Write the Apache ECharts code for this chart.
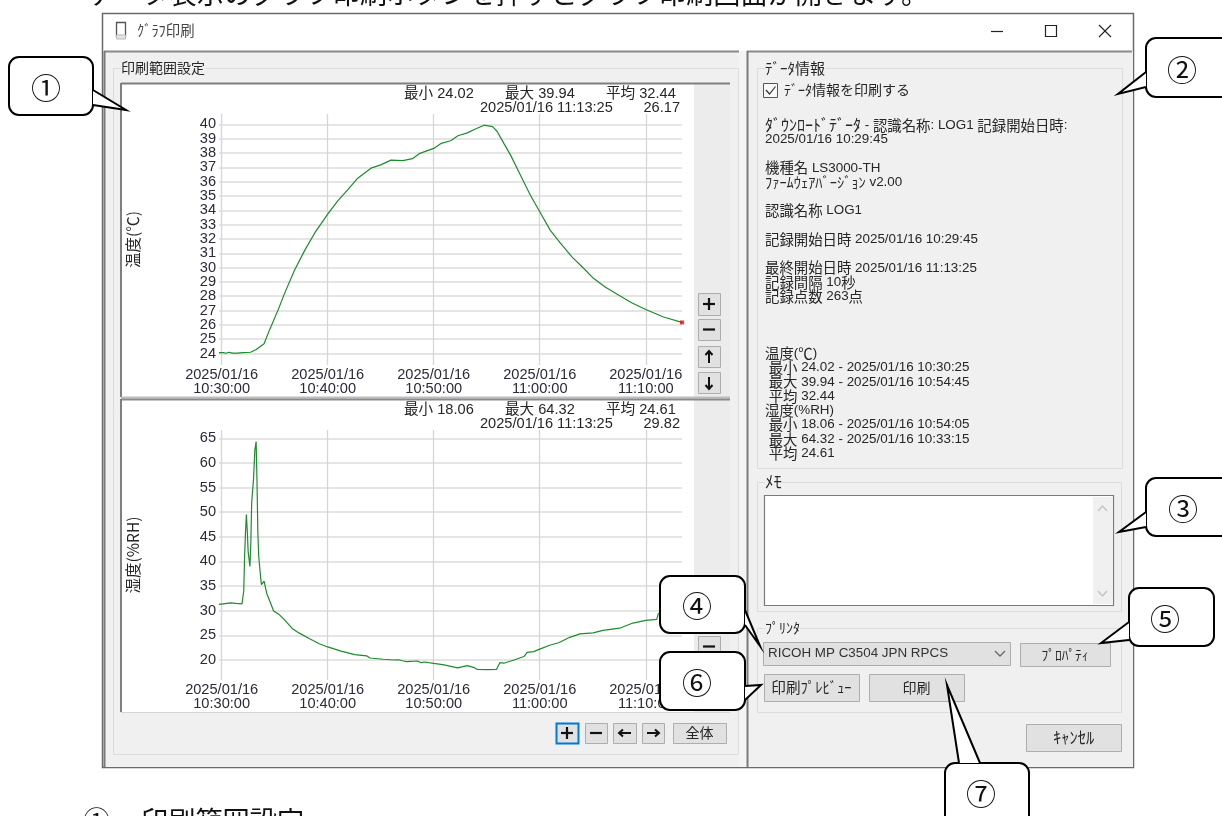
<!DOCTYPE html>
<html><head><meta charset="utf-8">
<style>html,body{margin:0;padding:0;background:#fff;overflow:hidden}#c{width:1222px;height:816px}</style>
<script src="https://cdn.jsdelivr.net/npm/echarts@6/dist/echarts.min.js"></script>
</head><body><div id="c"></div>
<script>
// ---------- data ----------
const xTickTimes = ['10:30:00','10:40:00','10:50:00','11:00:00','11:10:00'];
const xDate = '2025/01/16';
const xStart = '10:29:45';
const xEnd = '11:13:25';
const tempTicks = [24,25,26,27,28,29,30,31,32,33,34,35,36,37,38,39,40];
const humTicks = [20,25,30,35,40,45,50,55,60,65];
const tempTimes = ['10:29:45','10:30:10','10:30:17','10:30:25','10:30:40','10:31:00','10:31:30','10:32:00','10:32:44','10:33:16','10:34:00','10:34:31','10:35:19','10:35:56','10:36:53','10:37:50','10:38:46','10:40:00','10:40:57','10:41:53','10:42:50','10:44:05','10:45:00','10:45:58','10:47:05','10:48:00','10:48:38','10:50:00','10:50:43','10:51:36','10:52:17','10:53:10','10:53:56','10:54:45','10:55:33','10:55:59','10:56:37','10:57:15','10:58:11','10:59:07','11:00:00','11:01:00','11:01:57','11:03:02','11:04:08','11:05:04','11:06:10','11:07:16','11:08:40','11:10:00','11:11:40','11:13:25'];
const tempValues = [24.07,24.06,24.08,24.02,24.09,24.03,24.03,24.07,24.09,24.28,24.68,25.65,27.03,28.2,29.83,31.2,32.4,33.73,34.66,35.42,36.24,36.94,37.17,37.5,37.47,37.6,37.95,38.32,38.67,38.85,39.2,39.4,39.67,39.94,39.84,39.5,38.67,37.85,36.45,35.05,33.9,32.6,31.7,30.75,29.95,29.25,28.65,28.15,27.55,27.07,26.55,26.17];
const humTimes = ['10:29:45','10:30:20','10:30:50','10:31:20','10:31:55','10:32:00','10:32:05','10:32:10','10:32:15','10:32:20','10:32:25','10:32:30','10:32:40','10:32:45','10:32:50','10:33:00','10:33:08','10:33:15','10:33:20','10:33:25','10:33:30','10:33:40','10:33:45','10:34:00','10:34:15','10:34:30','10:34:54','10:35:23','10:35:52','10:36:39','10:37:17','10:38:15','10:39:12','10:40:00','10:41:16','10:42:33','10:43:40','10:43:59','10:45:15','10:46:12','10:46:40','10:47:26','10:48:29','10:48:48','10:49:10','10:50:00','10:50:59','10:52:15','10:53:10','10:53:50','10:54:05','10:55:04','10:55:55','10:56:14','10:56:37','10:57:34','10:58:30','10:58:49','10:59:26','11:00:00','11:01:00','11:01:47','11:01:57','11:02:50','11:03:47','11:05:02','11:05:58','11:07:32','11:08:47','11:10:00','11:11:02','11:11:11','11:11:20','11:12:20','11:13:25'];
const humValues = [31.27,31.45,31.6,31.5,31.4,31.4,34,41.2,46,49.5,46.3,42,39,43.6,52,56.5,62.6,64.32,56.3,45.6,41,37,35.3,36,33.5,32.16,29.93,29.3,28.3,26.4,25.5,24.35,23.3,22.65,21.8,21.1,20.85,20.4,20.15,20,20.05,19.65,19.8,19.45,19.6,19.3,19,18.4,18.85,18.45,18.1,18.06,18.08,19.45,19.35,20,20.7,21.55,21.7,22.2,23.05,23.5,23.9,24.6,25.3,25.5,26,26.45,27.5,28.05,28.25,29.4,29.7,29.75,29.82];
const statLabels = ['最小','最大','平均'];
const tempStats = ['24.02','39.94','32.44'];
const humStats = ['18.06','64.32','24.61'];
const lastTime = '2025/01/16 11:13:25';
const tempLast = '26.17';
const humLast = '29.82';
const infoFirst = 'ﾀﾞｳﾝﾛｰﾄﾞﾃﾞｰﾀ';
const infoLines = [' - 認識名称: LOG1 記録開始日時:','2025/01/16 10:29:45','','機種名 LS3000-TH','ﾌｧｰﾑｳｪｱﾊﾞｰｼﾞｮﾝ v2.00','','認識名称 LOG1','','記録開始日時 2025/01/16 10:29:45','','最終開始日時 2025/01/16 11:13:25','記録間隔 10秒','記録点数 263点','','','','温度(℃)',' 最小 24.02 - 2025/01/16 10:30:25',' 最大 39.94 - 2025/01/16 10:54:45',' 平均 32.44','湿度(%RH)',' 最小 18.06 - 2025/01/16 10:54:05',' 最大 64.32 - 2025/01/16 10:33:15',' 平均 24.61'];
const headline = 'データ表示のグラフ印刷ボタンを押すとグラフ印刷画面が開きます。';
const footline = '印刷範囲設定';

// ---------- helpers ----------
const sec = t => { const p = t.split(':').map(Number); return p[0]*3600 + p[1]*60 + p[2]; };
const pairs = (ts, vs) => ts.map((t, i) => [sec(t), vs[i]]);
const FONT = '"Liberation Sans","Noto Sans CJK JP",sans-serif';
const CJK = '"Noto Sans CJK JP","Liberation Sans",sans-serif';
const INK = '#262626';
const g = [];
const rect = (x,y,w,h,fill,stroke,lw,z,r) => g.push({type:'rect',z:z===undefined?-5:z,silent:true,shape:{x,y,width:w,height:h,r:r||0},style:{fill:fill||'none',stroke:stroke||'none',lineWidth:lw||1}});
const txt = (x,y,text,size,opt) => { opt=opt||{}; g.push({type:'text',z:opt.z===undefined?-1:opt.z,silent:true,x,y,style:{text,fontSize:size,fontFamily:opt.font||FONT,fill:opt.fill||INK,align:opt.align||'left',verticalAlign:opt.va||'middle',lineHeight:opt.lh,backgroundColor:opt.bg,rich:opt.rich}}); };
const line = (pts,stroke,lw,z) => g.push({type:'polyline',z:z===undefined?-1:z,silent:true,shape:{points:pts},style:{stroke,lineWidth:lw||1,fill:'none'}});
const btn = (x0,y0,x1,y1,label,size,font) => { rect(x0+.5,y0+.5,x1-x0,y1-y0,'#e1e1e1','#adadad',1,-2); if(label) txt((x0+x1)/2,(y0+y1)/2,label,size,{align:'center',z:-1,font:font||CJK}); };
const groupBox = (x0,y0,x1,y1,label,lx,size) => { rect(x0+.5,y0+.5,x1-x0,y1-y0,'none','#dcdcdc',1,-4); txt(lx,y0,label,size||14,{bg:'#f0f0f0',font:CJK}); };
const arrow = (cx,y0,y1,dir) => {
  line([[cx,y0],[cx,y1]],'#111',2,-1);
  const tip = dir<0?y0:y1; line([[cx-3.5,tip+(dir<0?4:-4)],[cx,tip],[cx+3.5,tip+(dir<0?4:-4)]],'#111',2,-1);
};
const harrow = (cy,x0,x1,dir) => {
  line([[x0,cy],[x1,cy]],'#111',2,-1);
  const tip = dir<0?x0:x1; line([[tip+(dir<0?4:-4),cy-3.5],[tip,cy],[tip+(dir<0?4:-4),cy+3.5]],'#111',2,-1);
};
const plusBtn = (x0,y0,x1,y1,blue) => {
  rect(x0+.5,y0+.5,x1-x0,y1-y0,'#e1e1e1',blue?'#0078d7':'#adadad',blue?2:1,-2);
  const cx=(x0+x1)/2,cy=(y0+y1)/2; line([[cx-6,cy],[cx+6,cy]],'#111',2.2); line([[cx,cy-6],[cx,cy+6]],'#111',2.2);
};
const minusBtn = (x0,y0,x1,y1) => { btn(x0,y0,x1,y1,''); const cx=(x0+x1)/2,cy=(y0+y1)/2; line([[cx-6,cy],[cx+6,cy]],'#111',2.2); };
const callout = (x,y,w,h,num,nx,ny,tail) => {
  rect(x,y,w,h,'#fff','#000',2,50,10);
  g.push({type:'polygon',z:51,silent:true,shape:{points:tail},style:{fill:'#fff',stroke:'none'}});
  line(tail,'#000',2,52);
  txt(nx,ny,num,30,{align:'center',font:CJK,fill:'#111',z:53});
};

// ---------- window chrome ----------
txt(88,-6,headline,27.2,{font:CJK,fill:'#111'});
txt(83,821,'①',27.2,{font:CJK,fill:'#111'});
txt(141,821,footline,27.2,{font:CJK,fill:'#111'});
rect(102.5,13.5,1031,754,'#fff','#6a6a6a',1.5,-10);
rect(104,51,635,716,'#f0f0f0','none',1,-9);
rect(747,51,386,716,'#f0f0f0','none',1,-9);
rect(739,51,8,716,'#f4f4f4','none',1,-9);
line([[104,51.5],[739,51.5]],'#8a8a8a',2,-8);
line([[747,51.5],[1132,51.5]],'#8a8a8a',2,-8);
line([[104.5,51],[104.5,767]],'#7a7a7a',2,-8);
line([[747.5,51],[747.5,767]],'#7a7a7a',2,-8);
// title bar
rect(116.5,22.5,9,14,'#fff','#555',1.3,-7);
rect(116.5,35,9,4,'#e4e4e4','#bbb',1,-7);
txt(137,31,'ｸﾞﾗﾌ印刷',14.4,{font:CJK,fill:'#444'});
line([[991,31.5],[1003,31.5]],'#222',1.2,-7);
rect(1045.5,25.5,11,11,'none','#222',1.2,-7);
line([[1099,25],[1111,37]],'#222',1.1,-7);
line([[1111,25],[1099,37]],'#222',1.1,-7);

// left group
groupBox(113,68,738,754,'印刷範囲設定',121);
rect(121,84,573,313,'#fff','none',1,-4);
rect(694,84,36,313,'#ececec','none',1,-4);
rect(121,400,573,312,'#fff','none',1,-4);
rect(694,400,36,312,'#ececec','none',1,-4);
line([[121,83.5],[730,83.5]],'#7f7f7f',2,-3);
line([[121,83],[121,397]],'#7f7f7f',2,-3);
line([[121,397.5],[730,397.5]],'#bdbdbd',2,-3);
line([[121,399.5],[730,399.5]],'#8a8a8a',2,-3);
line([[121,399],[121,712]],'#7f7f7f',2,-3);
line([[121,712.5],[730,712.5]],'#d4d4d4',1,-3);

// chart side buttons
plusBtn(698,293,720,315);
minusBtn(698,319,720,340);
btn(698,346,720,367,''); arrow(709,351,363,-1);
btn(698,372,720,393,''); arrow(709,377,389,1);
plusBtn(698,610,720,631);
minusBtn(698,636,720,657);
btn(698,662,720,683,''); arrow(709,667,679,-1);
btn(698,688,720,709,''); arrow(709,693,705,1);
// bottom buttons
plusBtn(556,723,578,743,true);
minusBtn(585,723,607,743);
btn(613,723,636,743,''); harrow(733,619,631,-1);
btn(642,723,664,743,''); harrow(733,647,659,1);
btn(673,723,726,743,'全体',14);

// stats
const stat = (rowY, vals, last) => {
  [404,505,606].forEach((x,i)=>txt(x,rowY,statLabels[i]+' '+vals[i],14.6));
  txt(480,rowY+14,lastTime,14.6);
  txt(680,rowY+14,last,14.6,{align:'right'});
};
stat(94,tempStats,tempLast);
stat(410,humStats,humLast);

// right groups
groupBox(757,68,1122,468,'ﾃﾞｰﾀ情報',765,15);
rect(763.5,83.5,14,14,'#f8f8f8','#555',1,-2);
line([[766,90],[769.5,94],[775.5,86.5]],'#333',1.2,-1);
txt(784,90,'ﾃﾞｰﾀ情報を印刷する',14,{font:CJK});
// info block: CJK, half-width kana and Latin runs are sized separately
const LH = 14.27;
const tag = s => s.replace(/[\uFF61-\uFF9F]+/g, m => '{k|'+m+'}').replace(/[\u2103\u3000-\u9FFF]+/g, m => '{c|'+m+'}');
const infoText = '{K|'+infoFirst+'}' + infoLines.map(tag).join('\n');
txt(765,118,infoText,13.4,{va:'top',lh:LH,rich:{
  c:{fontFamily:CJK,fontSize:14.4,lineHeight:LH,fill:INK},
  k:{fontFamily:CJK,fontSize:14.4,lineHeight:LH,fill:INK},
  K:{fontFamily:CJK,fontSize:16,lineHeight:LH,fill:INK}
}});
groupBox(757,482,1121,611,'ﾒﾓ',765,17);
rect(764.5,495.5,349,110,'#fff','#7a7a7a',1.2,-3);
rect(1093,497,20,107,'#f0f0f0','none',1,-2);
line([[1098,511],[1102.5,506],[1107,511]],'#c4c4c4',1.5,-1);
line([[1098,591],[1102.5,596],[1107,591]],'#c4c4c4',1.5,-1);
groupBox(757,628,1121,712,'ﾌﾟﾘﾝﾀ',765);
btn(763,642,1010,665,'');
txt(768,653,'RICOH MP C3504 JPN RPCS',13.4,{fill:'#333'});
line([[995,651],[1000,656],[1005,651]],'#666',1.3,-1);
btn(1020,643,1110,666,'ﾌﾟﾛﾊﾟﾃｨ',13.5);
btn(764,674,859,701,'印刷ﾌﾟﾚﾋﾞｭｰ',14.6);
btn(869,674,964,701,'印刷',14);
btn(1026,724,1121,751,'ｷｬﾝｾﾙ',16.5);

// callouts
callout(9,57,84,58,'①',46,88,[[93,90],[126,110],[93,105]]);
callout(1146,38,120,59,'②',1182,70,[[1146,72],[1118,94],[1146,87]]);
callout(1146,478,120,58,'③',1183,509,[[1146,512],[1119,532],[1146,527]]);
callout(660,576,85,57,'④',697,606,[[745,610],[760,646],[745,625]]);
callout(1129,588,85,58,'⑤',1165,619,[[1129,622],[1101,643],[1129,640]]);
callout(660,652,85,58,'⑥',697,683,[[745,686],[761,685],[745,700]]);
callout(945,763,84,80,'⑦',981,794,[[959,763],[947,685],[980,763]]);

// ---------- chart ----------
const xAxis = (idx) => ({
  gridIndex: idx, type:'value', min:sec(xStart), max:sec(xEnd),
  axisLine:{show:false},
  axisTick:{show:false, customValues:xTickTimes.map(sec)},
  splitLine:{show:true, lineStyle:{color:'#d6d6d6',width:1.3}},
  axisLabel:{customValues:xTickTimes.map(sec), margin:3, hideOverlap:false, color:'#2a2a38', fontFamily:FONT, fontSize:14.6, lineHeight:14,
    formatter:v => xDate+'\n'+xTickTimes.find(t=>sec(t)===v)}
});
const yAxis = (idx, min, max, ticks, name) => ({
  gridIndex: idx, type:'value', min, max,
  name, nameLocation:'middle', nameGap:78, nameRotate:90,
  nameTextStyle:{color:INK, fontSize:15.5, fontFamily:CJK},
  axisLine:{show:false},
  axisTick:{show:false, customValues:ticks},
  splitLine:{show:true, lineStyle:{color:'#dddddd',width:1.5}},
  // the extent values only stop ECharts from dropping the tightly spaced first and last tick labels
  axisLabel:{customValues:[min,...ticks,max], showMinLabel:false, showMaxLabel:false, margin:3, color:'#2a2a38', fontFamily:FONT, fontSize:14.6, lineHeight:12,
    formatter:v => ticks.includes(v) ? String(v) : ''}
});
const ser = (idx, ts, vs) => ([
  {type:'line', xAxisIndex:idx, yAxisIndex:idx, data:pairs(ts,vs), showSymbol:false, symbol:'none', lineStyle:{color:'#1c8c2c',width:1.2}, silent:true, animation:false, z:3},
  {type:'scatter', xAxisIndex:idx, yAxisIndex:idx, data:pairs(ts,vs).slice(-1), symbol:'rect', symbolSize:4, itemStyle:{color:'#ff0000'}, silent:true, animation:false, z:4}
]);
const chart = echarts.init(document.getElementById('c'), null, {renderer:'canvas'});
chart.setOption({
  animation:false,
  backgroundColor:'#fff',
  grid:[{left:219,right:540,top:114,bottom:451},{left:219,right:540,top:430,bottom:136}],
  xAxis:[xAxis(0),xAxis(1)],
  yAxis:[yAxis(0,23.2,40.72,tempTicks,'温度(℃)'),yAxis(1,15.94,66.68,humTicks,'湿度(%RH)')],
  series:[...ser(0,tempTimes,tempValues),...ser(1,humTimes,humValues)],
  graphic:{elements:g}
});
</script></body></html>
